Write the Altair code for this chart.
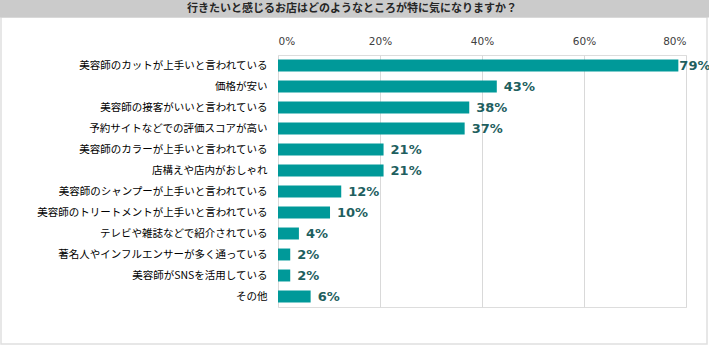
import altair as alt
import pandas as pd

categories = [
    "美容師のカットが上手いと言われている",
    "価格が安い",
    "美容師の接客がいいと言われている",
    "予約サイトなどでの評価スコアが高い",
    "美容師のカラーが上手いと言われている",
    "店構えや店内がおしゃれ",
    "美容師のシャンプーが上手いと言われている",
    "美容師のトリートメントが上手いと言われている",
    "テレビや雑誌などで紹介されている",
    "著名人やインフルエンサーが多く通っている",
    "美容師がSNSを活用している",
    "その他",
]
values = [78.5, 42.9, 37.5, 36.6, 20.7, 20.7, 12.4, 10.2, 4.1, 2.4, 2.4, 6.4]
value_labels = ["79%", "43%", "38%", "37%", "21%", "21%", "12%", "10%", "4%", "2%", "2%", "6%"]
title_text = "行きたいと感じるお店はどのようなところが特に気になりますか？"

df = pd.DataFrame({"category": categories, "value": values, "lbl": value_labels})
one = alt.Data(values=[{"t": title_text}])

W, H = 408, 252
PL, PT = 278, 55

y_enc = alt.Y(
    "category:N",
    sort=categories,
    scale=alt.Scale(paddingInner=0.43, paddingOuter=0.215),
    axis=alt.Axis(
        title=None, ticks=False, domain=False, labelPadding=11,
        labelFont="Noto Sans CJK JP", labelFontSize=10.5, labelColor="#000000",
        labelLimit=300,
    ),
)
x_enc = alt.X(
    "value:Q",
    scale=alt.Scale(domain=[0, 80], nice=False),
    axis=alt.Axis(
        orient="top", title=None, values=[0, 20, 40, 60, 80],
        labelExpr="datum.value + '%'", ticks=False, tickSize=0, domain=False,
        grid=True, gridColor="#D9D9D9", gridWidth=1, labelPadding=9,
        labelFont="DejaVu Sans", labelFontSize=10.5, labelColor="#404040",
    ),
)

band = alt.Chart(one).mark_rect(color="#CBCBCB").encode(
    x=alt.value(-PL), x2=alt.value(709 - PL), y=alt.value(-PT), y2=alt.value(-PT + 17.5)
)
title = alt.Chart(one).mark_text(
    font="Noto Sans CJK JP", fontSize=11, fontWeight="bold", color="#262626",
    align="center", baseline="middle",
).encode(x=alt.value(352 - PL), y=alt.value(-PT + 9), text="t:N")
border = alt.Chart(one).mark_rect(filled=False, stroke="#E0E0E0", strokeWidth=1.5).encode(
    x=alt.value(-PL + 1), x2=alt.value(707 - PL), y=alt.value(-PT + 17), y2=alt.value(344 - PT)
)

bars = alt.Chart(df).mark_bar(color="#009999").encode(y=y_enc, x=x_enc)
label_style = dict(align="left", baseline="middle", font="DejaVu Sans", fontSize=13,
                   fontWeight="bold", color="#1F5F5F")
labels = alt.Chart(df).transform_filter("datum.value < 70").mark_text(dx=7, **label_style).encode(
    y=alt.Y("category:N", sort=categories), x="value:Q", text="lbl:N")
labels_top = alt.Chart(df).transform_filter("datum.value >= 70").mark_text(dx=1, **label_style).encode(
    y=alt.Y("category:N", sort=categories), x="value:Q", text="lbl:N")

chart = alt.layer(border, band, title, bars, labels, labels_top).properties(
    width=W, height=H,
    autosize=alt.AutoSizeParams(type="none"),
    padding={"left": PL, "top": PT, "right": 709 - PL - W, "bottom": 356 - PT - H},
).configure_view(stroke=None).configure(background="white")

chart.save("out.html", embed_options={"renderer": "svg", "actions": False})
